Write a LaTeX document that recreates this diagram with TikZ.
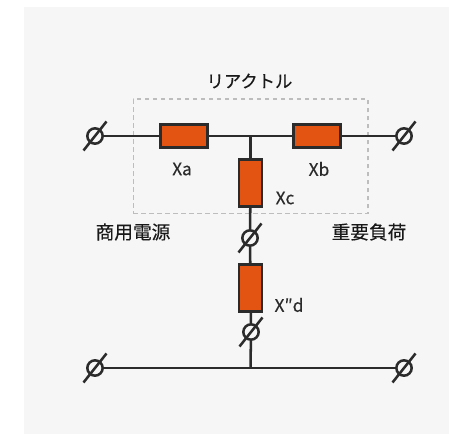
\documentclass[tikz,border=0pt]{standalone}
\usepackage{fontspec}
\setmainfont{Noto Sans CJK JP}[FakeBold=0.25]
\definecolor{panelgray}{HTML}{F6F6F6}
\definecolor{wiregray}{HTML}{2B2B2B}
\definecolor{boxorange}{HTML}{E35412}
\definecolor{dashgray}{HTML}{BDBDBD}
\tikzset{
  wire/.style={draw=wiregray,line width=1.9pt},
  terminal/.style={circle,draw=wiregray,line width=1.9pt,inner sep=0pt,minimum size=11.5pt},
  reactor/.style={rectangle,draw=wiregray,fill=boxorange,line width=1.9pt,inner sep=0pt},
  hreactor/.style={reactor,minimum width=35pt,minimum height=17pt},
  vreactor/.style={reactor,minimum width=17pt,minimum height=35pt},
  tag/.style={font=\fontsize{13}{15}\selectfont,text=wiregray,inner sep=0pt},
  title/.style={font=\fontsize{14}{16}\selectfont,text=black!90,inner sep=0pt}
}
\begin{document}
\begin{tikzpicture}[x=0.75pt,y=-0.75pt]
      \useasboundingbox (0,0) rectangle (449,434);
      \fill[panelgray] (24,7) rectangle (449,434);
      \node[draw=dashgray,dash pattern=on 3.5pt off 2.5pt,line width=1pt,minimum width=176pt,minimum height=86pt,inner sep=0pt] (unit) at (250.5,156.5) {};
      \draw
        (95,136) node[terminal] (t1){}
        (404,136) node[terminal] (t2){}
        (250,238) node[terminal] (t3){}
        (251,332) node[terminal] (t4){}
        (95,368) node[terminal] (t5){}
        (404,368) node[terminal] (t6){};
      \node[hreactor] (xa) at (184,136) {};
      \node[hreactor] (xb) at (317,136) {};
      \node[vreactor] (xc) at (250.5,183) {};
      \node[vreactor] (xd) at (250.5,288) {};
      \coordinate (top) at (250.5,136);
      \coordinate (bottom) at (250.5,368);
      \begin{scope}[wire]
        \draw (t1) to (xa);
        \draw (xa) to (xb);
        \draw (xb) to (t2);
        \draw (top) to (xc);
        \draw (xc) to (t3);
        \draw (t3) to (xd);
        \draw (xd) to (t4);
        \draw (t4) to (bottom);
        \draw (t5) to (t6);
      \end{scope}
      \foreach \n in {t1,t2,t3,t4,t5,t6}
        \draw[wire] ([shift={(-11.5,14.5)}]\n.center) -- ([shift={(11.5,-14.5)}]\n.center);
      \node[title,font=\fontsize{13}{16}\selectfont] (name) at (249.5,81) {リアクトル};
      \node[title] (source) at (133,232) {商用電源};
      \node[title] (load) at (369,232) {重要負荷};
      \node[tag] (la) at (182,169) {Xa};
      \node[tag] (lb) at (319,169) {Xb};
      \node[tag] (lc) at (285,198) {Xc};
      \node[tag] (ld) at (289,305) {X″d};
    \end{tikzpicture}
\end{document}
